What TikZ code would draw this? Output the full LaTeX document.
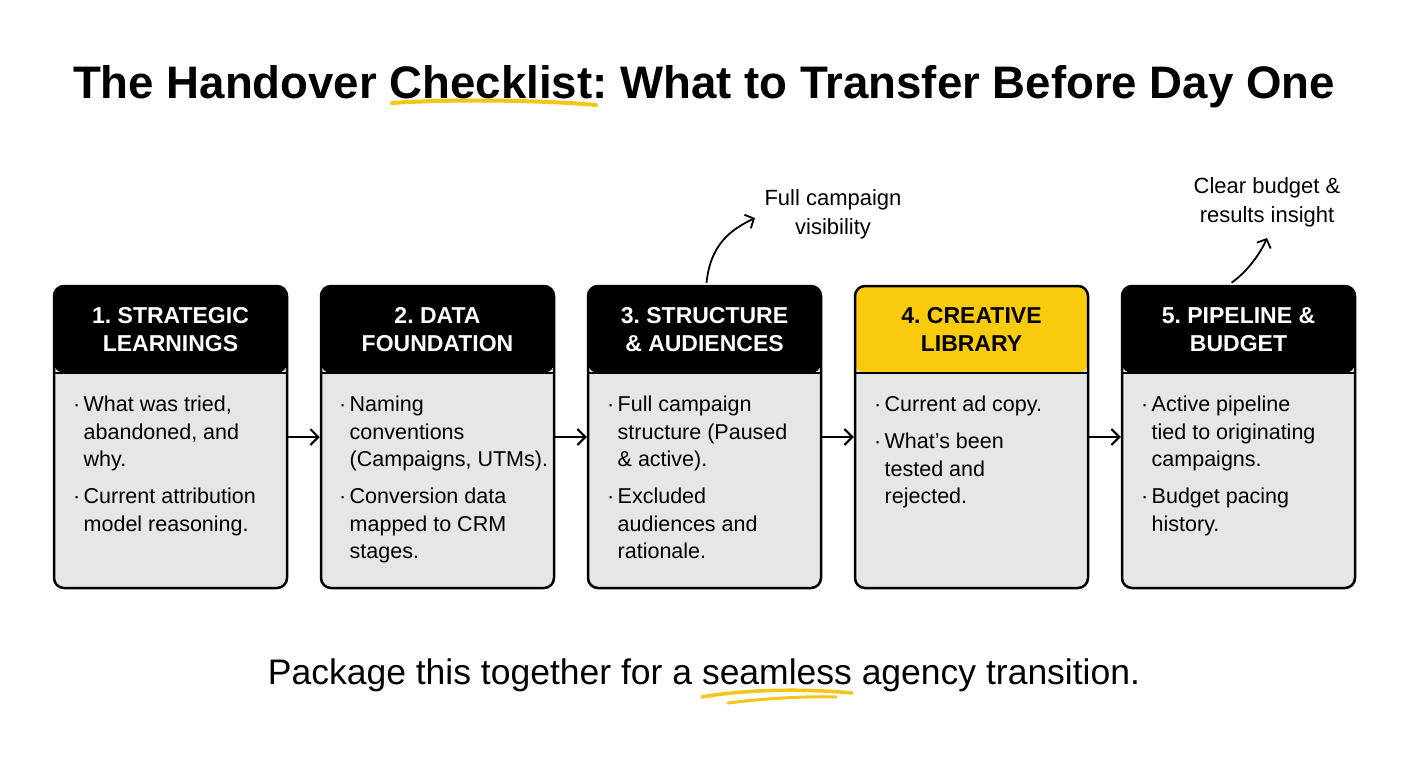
\documentclass[tikz,border=0pt]{standalone}
\usepackage{fontspec}
\setmainfont{Liberation Sans}
\usetikzlibrary{arrows.meta,calc}
\definecolor{bodygray}{HTML}{E6E6E6}
\definecolor{hdryellow}{HTML}{FACB0C}
\definecolor{ulyellow}{HTML}{F5C518}
\newcommand\bitem{\makebox[10.5pt][l]{·}}
\newcommand\bind{\hspace*{10.5pt}}
\frenchspacing
\begin{document}
\begin{tikzpicture}[x=1pt,y=-1pt,
  box/.style={rounded corners=10pt, fill=bodygray, draw=black, line width=2.5pt,
    minimum width=233pt, minimum height=302pt, inner sep=0pt,
    path picture={\fill[#1] (path picture bounding box.north west) rectangle ($(path picture bounding box.north east)+(0pt,-87pt)$);
      \draw[black,line width=2.5pt] ($(path picture bounding box.north west)+(0pt,-87pt)$) -- ($(path picture bounding box.north east)+(0pt,-87pt)$);}},
  hdr/.style={font=\bfseries\fontsize{23}{28}\selectfont, align=center, text=white, inner sep=0pt},
  bodytext/.style={font=\fontsize{21.5}{27.5}\selectfont, align=left, anchor=north west, inner sep=0pt},
  flow/.style={line width=2pt, -{Straight Barb[length=8pt,width=16pt,line width=2pt]}},
  curly/.style={line width=1.8pt, -{Straight Barb[length=7pt,width=15pt,line width=1.8pt]}},
  note/.style={font=\fontsize{22}{29}\selectfont, align=center, inner sep=0pt},
  ul/.style={ulyellow, line width=4pt, line cap=round}
]
\useasboundingbox[fill=white] (0,0) rectangle (1408,768);

% title
\node[font=\bfseries\fontsize{45.6}{50}\selectfont, anchor=base, inner sep=0pt] (title) at (704,98) {The Handover Checklist: What to Transfer Before Day One};
\draw[ul] (392,103) .. controls (450,99) and (540,100) .. (596,105);

% boxes
\node[box=black] (box1) at (170.5,437) {};
\node[box=black] (box2) at (437.5,437) {};
\node[box=black] (box3) at (704.5,437) {};
\node[box=hdryellow] (box4) at (971.5,437) {};
\node[box=black] (box5) at (1238.5,437) {};

% headers
\node[hdr] (h1) at (170.5,329.5) {1. STRATEGIC\\LEARNINGS};
\node[hdr] (h2) at (437.5,329.5) {2. DATA\\FOUNDATION};
\node[hdr] (h3) at (704.5,329.5) {3. STRUCTURE\\\& AUDIENCES};
\node[hdr, text=black] (h4) at (971.5,329.5) {4. CREATIVE\\LIBRARY};
\node[hdr] (h5) at (1238.5,329.5) {5. PIPELINE \&\\BUDGET};

% bodies
\node[bodytext] (b1) at (73,396) {\bitem What was tried,\\ \bind abandoned, and\\ \bind why.\\[9.5pt] \bitem Current attribution\\ \bind model reasoning.};
\node[bodytext] (b2) at (339,396) {\bitem Naming\\ \bind conventions\\ \bind (Campaigns, UTMs).\\[9.5pt] \bitem Conversion data\\ \bind mapped to CRM\\ \bind stages.};
\node[bodytext] (b3) at (607,396) {\bitem Full campaign\\ \bind structure (Paused\\ \bind \& active).\\[9.5pt] \bitem Excluded\\ \bind audiences and\\ \bind rationale.};
\node[bodytext] (b4) at (874,396) {\bitem Current ad copy.\\[9.5pt] \bitem What’s been\\ \bind tested and\\ \bind rejected.};
\node[bodytext] (b5) at (1141,396) {\bitem Active pipeline\\ \bind tied to originating\\ \bind campaigns.\\[9.5pt] \bitem Budget pacing\\ \bind history.};

% flow arrows
\draw[flow] (box1.east) -- (box2.west);
\draw[flow] (box2.east) -- (box3.west);
\draw[flow] (box3.east) -- (box4.west);
\draw[flow] (box4.east) -- (box5.west);

% annotations
\node[note] (n1) at (833,214) {Full campaign\\visibility};
\node[note] (n2) at (1267,202) {Clear budget \&\\results insight};
\coordinate (t1) at (755,218);
\coordinate (t2) at (1267,238);
\draw[curly] ($(box3.north)+(2,-2)$) .. controls ($(box3.north)+(6,-40)$) and ($(t1)+(-25,12)$) .. (t1);
\draw[curly] ($(box5.north)+(-7,-2)$) .. controls ($(box5.north)+(10,-14)$) and ($(t2)+(-6,14)$) .. (t2);

% footer
\node[font=\fontsize{35.5}{40}\selectfont, anchor=base, inner sep=0pt] (foot) at (704,684) {Package this together for a seamless agency transition.};
\draw[ul, line width=3.5pt] (702,697) .. controls (740,690) and (800,688) .. (852,693);
\draw[ul, line width=3pt] (728,703) .. controls (760,699) and (800,696) .. (836,697);
\end{tikzpicture}
\end{document}
